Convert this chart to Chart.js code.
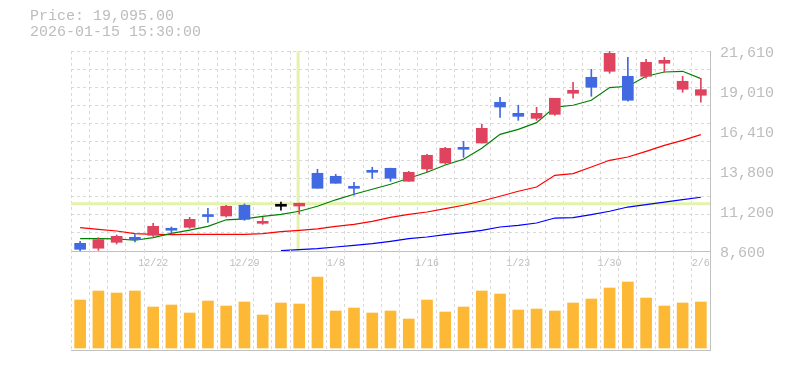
<!DOCTYPE html>
<html>
<head>
<meta charset="utf-8">
<script src="https://cdn.jsdelivr.net/npm/chart.js@4.4.1/dist/chart.umd.min.js"></script>
<style>
  body { margin: 0; background: #fff; }
  #wrap { position: relative; width: 785px; height: 370px; }
  #info { position: absolute; left: 30px; top: 9px; font: 15px/16px "Liberation Mono", monospace; color: #bdbdbd; white-space: pre; }
  canvas { position: absolute; left: 0; }
  #priceChart { top: 0; }
  #volChart { top: 250px; }
</style>
</head>
<body>
<div id="wrap">
  <canvas id="priceChart" width="785" height="270"></canvas>
  <canvas id="volChart" width="785" height="110"></canvas>
  <div id="info">Price: 19,095.00
2026-01-15 15:30:00</div>
</div>
<script>
const dates = ["12/16", "12/17", "12/18", "12/19", "12/22", "12/23", "12/24", "12/25", "12/26", "12/29",
  "12/30", "1/5", "1/6", "1/7", "1/8", "1/9", "1/13", "1/14", "1/15", "1/16",
  "1/19", "1/20", "1/21", "1/22", "1/23", "1/26", "1/27", "1/28", "1/29", "1/30",
  "2/2", "2/3", "2/4", "2/5", "2/6"];
const tickDates = ["12/22", "12/29", "1/8", "1/16", "1/23", "1/30", "2/6"];
const priceTicks = [8600, 11200, 13800, 16410, 19010, 21610];

const opens = [9100, 8780, 9165, 9490, 9620, 10080, 10140, 10940, 10880, 11575, 10400, 11510, 11525, 13655, 13460, 12810, 13850, 13980, 13135, 13935, 14325, 15345, 15625, 18275, 17555, 17230, 17490, 18860, 19900, 20290, 19965, 19965, 20810, 19120, 18730];
const highs = [9230, 9470, 9640, 9665, 10400, 10160, 10790, 11380, 11570, 11660, 10790, 11790, 11720, 13915, 13590, 13070, 14045, 13990, 13785, 14890, 15345, 15735, 16840, 18600, 18080, 17945, 18535, 19575, 20420, 21610, 21200, 21070, 21200, 19965, 19835];
const lows = [8600, 8645, 9055, 9185, 9555, 9730, 10075, 10465, 10810, 10595, 10335, 11250, 11005, 12680, 13005, 12225, 13330, 13135, 13135, 13740, 14260, 14695, 15625, 17295, 17100, 17100, 17425, 18535, 18665, 20160, 18340, 19835, 20225, 18925, 18275];
const closes = [8710, 9340, 9555, 9340, 10205, 9950, 10660, 10840, 11510, 10660, 10530, 11510, 11705, 12680, 13005, 12680, 13720, 13330, 13720, 14825, 15280, 15215, 16580, 17965, 17360, 17555, 18535, 19055, 19250, 21460, 18405, 20875, 21005, 19640, 19095];

const maShort = [9405, 9405, 9395, 9300, 9470, 9750, 9960, 10205, 10630, 10695, 10855, 10985, 11185, 11510, 11930, 12290, 12615, 12940, 13330, 13720, 14195, 14565, 15280, 16190, 16515, 16950, 17965, 18080, 18405, 19230, 19315, 19965, 20245, 20290, 19815];
const maMid = [10120, 10010, 9900, 9730, 9685, 9665, 9685, 9685, 9685, 9685, 9730, 9860, 9945, 10045, 10205, 10335, 10530, 10790, 10985, 11135, 11360, 11575, 11855, 12160, 12485, 12765, 13525, 13635, 14065, 14500, 14715, 15085, 15475, 15800, 16170];
const maLong = [null, null, null, null, null, null, null, null, null, null, null, 8625, 8690, 8755, 8860, 8970, 9080, 9230, 9405, 9510, 9665, 9795, 9945, 10160, 10270, 10420, 10745, 10775, 10970, 11185, 11460, 11620, 11785, 11945, 12095];

const volumes = [48, 57, 55, 57, 41, 43, 35, 47, 42, 46, 33, 45, 44, 71, 37, 40, 35, 37, 29, 48, 36, 41, 57, 54, 38, 39, 37, 45, 49, 60, 66, 50, 42, 45, 46];

// crosshair position (category index, price)
const crossIndex = 11.94;
const crossPrice = 11670;

const UP = "#e0435e";
const DOWN = "#4169e1";
const GRID = "#d9d9d9";
const AXIS = "#c0c0c0";
const TEXT = "#bdbdbd";
const MONO = "'Liberation Mono', monospace";

const candleColors = opens.map((o, i) => closes[i] > o ? UP : closes[i] < o ? DOWN : "#000");

const crosshair = {
    id: "crosshair",
    beforeDatasetsDraw(chart) {
        const { ctx, chartArea, scales } = chart;
        const x = scales.x.getPixelForValue(crossIndex);
        const y = scales.y.getPixelForValue(crossPrice);
        ctx.save();
        ctx.strokeStyle = "#e4f3ab";
        ctx.lineWidth = 3;
        ctx.beginPath();
        ctx.moveTo(chartArea.left, y);
        ctx.lineTo(chartArea.right, y);
        ctx.moveTo(x, chartArea.top);
        ctx.lineTo(x, chartArea.bottom);
        ctx.stroke();
        ctx.restore();
    },
};

new Chart(document.getElementById("priceChart"), {
    type: "bar",
    data: {
        labels: dates,
        datasets: [
            {
                label: "body",
                data: opens.map((o, i) => [o, closes[i]]),
                backgroundColor: candleColors,
                barThickness: 11,
                minBarLength: 2,
                grouped: false,
                order: 0,
            },
            {
                label: "wick",
                data: lows.map((l, i) => [l, highs[i]]),
                backgroundColor: candleColors,
                barThickness: 1,
                grouped: false,
                order: 1,
            },
            { type: "line", label: "MA short", data: maShort, borderColor: "#008000", borderWidth: 1.2, pointRadius: 0, order: 2 },
            { type: "line", label: "MA mid", data: maMid, borderColor: "#ff0000", borderWidth: 1.2, pointRadius: 0, order: 2 },
            { type: "line", label: "MA long", data: maLong, borderColor: "#0000ff", borderWidth: 1.2, pointRadius: 0, order: 2 },
        ],
    },
    options: {
        responsive: false,
        animation: false,
        events: [],
        layout: { padding: { left: 71, top: 51, right: 0, bottom: 0 } },
        plugins: { legend: { display: false }, tooltip: { enabled: false } },
        scales: {
            x: {
                offset: true,
                grid: { offset: true, color: GRID, drawTicks: false },
                border: { color: AXIS, dash: [3, 3] },
                ticks: {
                    autoSkip: false,
                    maxRotation: 0,
                    padding: 6,
                    color: TEXT,
                    font: { family: MONO, size: 10 },
                    callback: (v, i) => tickDates.includes(dates[i]) ? dates[i] : "",
                },
                afterFit: (s) => { s.height = 19; },
            },
            y: {
                position: "right",
                min: 8600,
                max: 21610,
                afterBuildTicks: (s) => { s.ticks = priceTicks.map((v) => ({ value: v })); },
                afterFit: (s) => { s.width = 75; },
                grid: { display: false, drawTicks: false },
                border: { color: AXIS },
                ticks: {
                    padding: 10,
                    labelOffset: 2,
                    color: TEXT,
                    font: { family: MONO, size: 15 },
                    callback: (v) => v.toLocaleString("en-US"),
                },
            },
            yg: {
                position: "left",
                min: 0,
                max: 11,
                afterBuildTicks: (s) => { s.ticks = Array.from({ length: 12 }, (_, i) => ({ value: i })); },
                afterFit: (s) => { s.width = 0; },
                grid: { color: GRID, drawTicks: false },
                border: { display: false, dash: [3, 3] },
                ticks: { display: false },
            },
        },
    },
    plugins: [crosshair],
});

new Chart(document.getElementById("volChart"), {
    type: "bar",
    data: {
        labels: dates,
        datasets: [{ label: "Volume", data: volumes, backgroundColor: "#fdb835", barThickness: 11 }],
    },
    options: {
        responsive: false,
        animation: false,
        events: [],
        layout: { padding: { left: 71, top: 0, right: 0, bottom: 10 } },
        plugins: { legend: { display: false }, tooltip: { enabled: false } },
        scales: {
            x: {
                offset: true,
                grid: { offset: true, color: GRID, drawTicks: false },
                border: { color: AXIS, dash: [3, 3] },
                ticks: { display: false, autoSkip: false },
                afterFit: (s) => { s.height = 0; },
            },
            y: {
                position: "right",
                min: -2,
                max: 98,
                grid: { display: false, drawTicks: false },
                border: { color: AXIS },
                ticks: { display: false },
                afterFit: (s) => { s.width = 75; },
            },
        },
    },
});
</script>
</body>
</html>
